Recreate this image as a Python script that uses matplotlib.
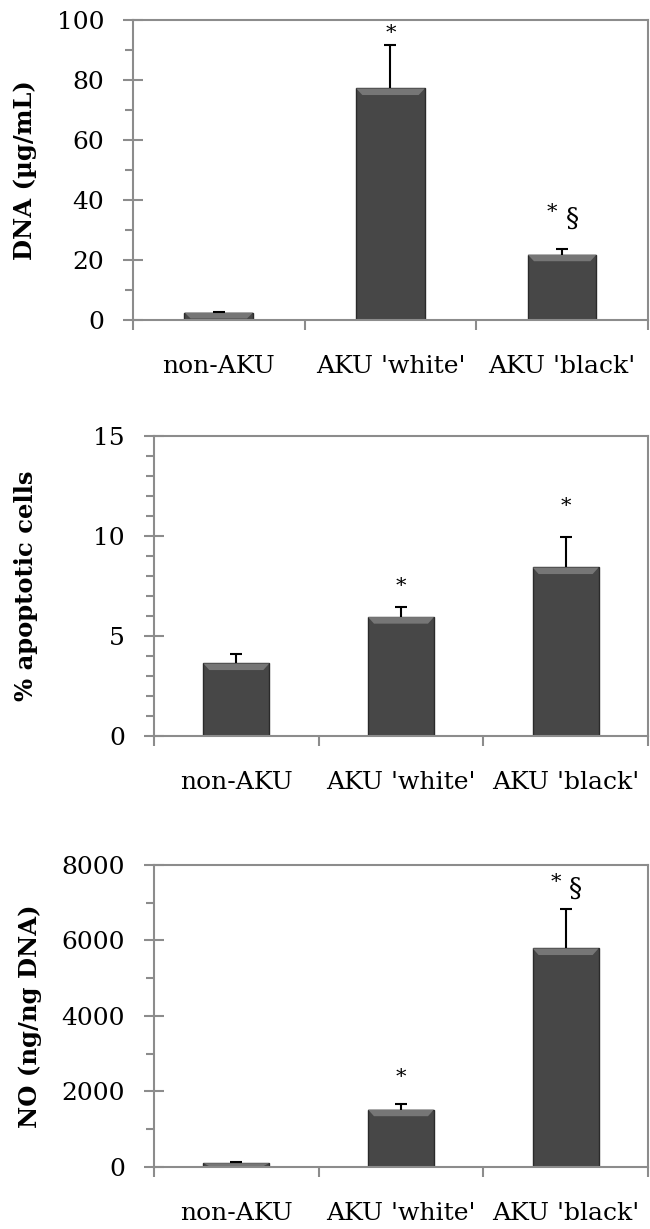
import numpy as np
import matplotlib
matplotlib.use('Agg')
import matplotlib.pyplot as plt
from matplotlib.ticker import MultipleLocator, FixedLocator
from matplotlib.patches import Polygon

# DATA ------------------------------------------------------------------------
groups = ["non-AKU", "AKU 'white'", "AKU 'black'"]

dna_mean = [2.5, 77.2, 21.8]
dna_err = [0.3, 14.4, 1.8]
dna_marks = ['', '*', '*§']
dna_mark_y = [0, 95.5, 35]

apop_mean = [3.63, 5.95, 8.43]
apop_err = [0.45, 0.52, 1.5]
apop_marks = ['', '*', '*']
apop_mark_y = [0, 7.5, 11.5]

no_mean = [100, 1520, 5790]
no_err = [20, 150, 1035]
no_marks = ['', '*', '*§']
no_mark_y = [0, 2360, 7450]

# STYLE -----------------------------------------------------------------------
plt.rcParams['font.family'] = ['DejaVu Serif']
grey = '#8c8c8c'
bar_col = '#474747'
bevel_col = '#767676'


def panel(ax, mean, err, marks, mark_y, ymax, major, minor, ylabel, label_x):
    x = np.arange(len(groups))
    bars = ax.bar(x, mean, width=0.40, color=bar_col, edgecolor='#2a2a2a',
                  linewidth=1.0, zorder=2)
    # lighter bevel strip on top of each bar
    for b in bars:
        x0, w, h = b.get_x(), b.get_width(), b.get_height()
        dh = min(0.022 * ymax, 0.8 * h)
        dx = w * 0.09
        ax.add_patch(Polygon([(x0, h), (x0 + w, h), (x0 + w - dx, h - dh),
                              (x0 + dx, h - dh)], closed=True,
                             facecolor=bevel_col, edgecolor='none', zorder=3))
    eb = ax.errorbar(x, mean, yerr=[np.zeros(len(x)), err], fmt='none',
                     ecolor='black', elinewidth=1.5, capsize=4.5,
                     capthick=1.5, zorder=4)
    eb[1][0].set_visible(False)

    for xi, m, my in zip(x, marks, mark_y):
        if m == '*':
            ax.text(xi, my, '*', ha='center', va='center', fontsize=15)
        elif m == '*§':
            ax.text(xi - 0.06, my + 0.01 * ymax, '*', ha='center', va='center',
                    fontsize=15)
            ax.text(xi + 0.06, my - 0.01 * ymax, '§', ha='center', va='center',
                    fontsize=19)

    ax.set_xlim(-0.5, len(groups) - 0.5)
    ax.set_ylim(0, ymax)
    ax.yaxis.set_major_locator(MultipleLocator(major))
    ax.yaxis.set_minor_locator(MultipleLocator(minor))
    ax.set_xticks(x)
    ax.set_xticklabels(groups)
    ax.xaxis.set_minor_locator(FixedLocator(np.arange(-0.5, len(groups), 1.0)))

    for s in ax.spines.values():
        s.set_color(grey)
        s.set_linewidth(1.5)

    ax.tick_params(axis='y', which='major', direction='inout', length=14.5,
                   width=1.5, color=grey, pad=13.6, labelsize=18)
    ax.tick_params(axis='y', which='minor', direction='out', length=6,
                   width=1.5, color=grey)
    ax.tick_params(axis='x', which='major', length=0, pad=25, labelsize=18)
    ax.tick_params(axis='x', which='minor', direction='out', length=7,
                   width=1.5, color=grey)

    ax.set_ylabel(ylabel, fontsize=17.5, fontweight='bold')
    ax.yaxis.set_label_coords(label_x, 0.5)


fig = plt.figure(figsize=(6.5, 12.29), dpi=100)

ax1 = fig.add_axes([0.2046, 0.7396, 0.7923, 0.2441])
panel(ax1, dna_mean, dna_err, dna_marks, dna_mark_y, 100, 20, 10,
      'DNA (µg/mL)', -0.186)

ax2 = fig.add_axes([0.2369, 0.4011, 0.7600, 0.2441])
panel(ax2, apop_mean, apop_err, apop_marks, apop_mark_y, 15, 5, 1,
      '% apoptotic cells', -0.235)

ax3 = fig.add_axes([0.2369, 0.0505, 0.7600, 0.2457])
panel(ax3, no_mean, no_err, no_marks, no_mark_y, 8000, 2000, 1000,
      'NO (ng/ng DNA)', -0.226)

fig.savefig('out.png', dpi=100)
